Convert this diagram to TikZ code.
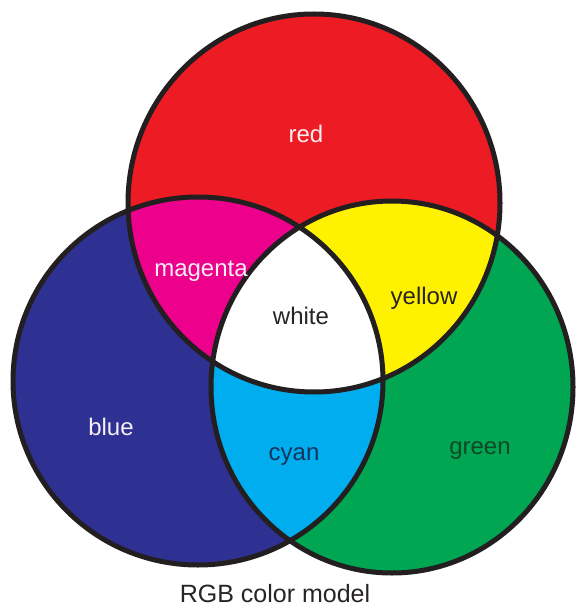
\documentclass[tikz,border=0pt]{standalone}
\usepackage{fontspec}
\setmainfont{Liberation Sans}
\definecolor{rgbred}{RGB}{237,28,36}
\definecolor{rgbgreen}{RGB}{0,166,81}
\definecolor{rgbblue}{RGB}{46,49,146}
\definecolor{rgbmag}{RGB}{236,0,140}
\definecolor{rgbyel}{RGB}{255,242,0}
\definecolor{rgbcyan}{RGB}{0,174,239}
\definecolor{ringclr}{RGB}{35,31,32}
\definecolor{lighttxt}{RGB}{246,238,242}
\definecolor{darktxt}{RGB}{40,36,36}
\definecolor{cyantxt}{RGB}{22,52,92}
\definecolor{greentxt}{RGB}{14,72,42}
\tikzset{
  ring/.style={draw=ringclr,line width=5pt},
  lbl/.style={font=\fontsize{24}{28}\selectfont,inner sep=0pt},
  ttl/.style={font=\fontsize{25}{30}\selectfont,inner sep=0pt,text=darktxt},
}

\begin{document}
\begin{tikzpicture}[x=1pt,y=-1pt]
  \useasboundingbox[fill=white] (0,0) rectangle (577,612);
  \coordinate (rc) at (314,203);
  \coordinate (bc) at (198,381);
  \coordinate (gc) at (392,387);

  % primaries
  \fill[rgbred]   (rc) ellipse [x radius=186pt,y radius=189pt];
  \fill[rgbblue]  (bc) ellipse [x radius=185pt,y radius=184pt];
  \fill[rgbgreen] (gc) ellipse [x radius=181pt,y radius=186pt];

  % secondaries
  \begin{scope}
    \clip (bc) ellipse [x radius=185pt,y radius=184pt];
    \fill[rgbcyan] (gc) ellipse [x radius=181pt,y radius=186pt];
  \end{scope}
  \begin{scope}
    \clip (rc) ellipse [x radius=186pt,y radius=189pt];
    \fill[rgbmag] (bc) ellipse [x radius=185pt,y radius=184pt];
    \fill[rgbyel] (gc) ellipse [x radius=181pt,y radius=186pt];
    \clip (bc) ellipse [x radius=185pt,y radius=184pt];
    \fill[white] (gc) ellipse [x radius=181pt,y radius=186pt];
  \end{scope}

  \draw[ring] (rc) ellipse [x radius=186pt,y radius=189pt];
  \draw[ring] (bc) ellipse [x radius=185pt,y radius=184pt];
  \draw[ring] (gc) ellipse [x radius=181pt,y radius=186pt];

  \node[lbl,text=lighttxt] (red) at (306,134) {red};
  \node[lbl,text=lighttxt] (magenta) at (201,271) {magenta};
  \node[lbl,text=darktxt] (yellow) at (424,298) {yellow};
  \node[lbl,text=darktxt] (white) at (301,316) {white};
  \node[lbl,text=lighttxt] (blue) at (111,427) {blue};
  \node[lbl,text=cyantxt] (cyan) at (294,457) {cyan};
  \node[lbl,text=greentxt] (green) at (480,451) {green};
  \node[ttl] (title) at (275,594) {RGB color model};
\end{tikzpicture}
\end{document}
